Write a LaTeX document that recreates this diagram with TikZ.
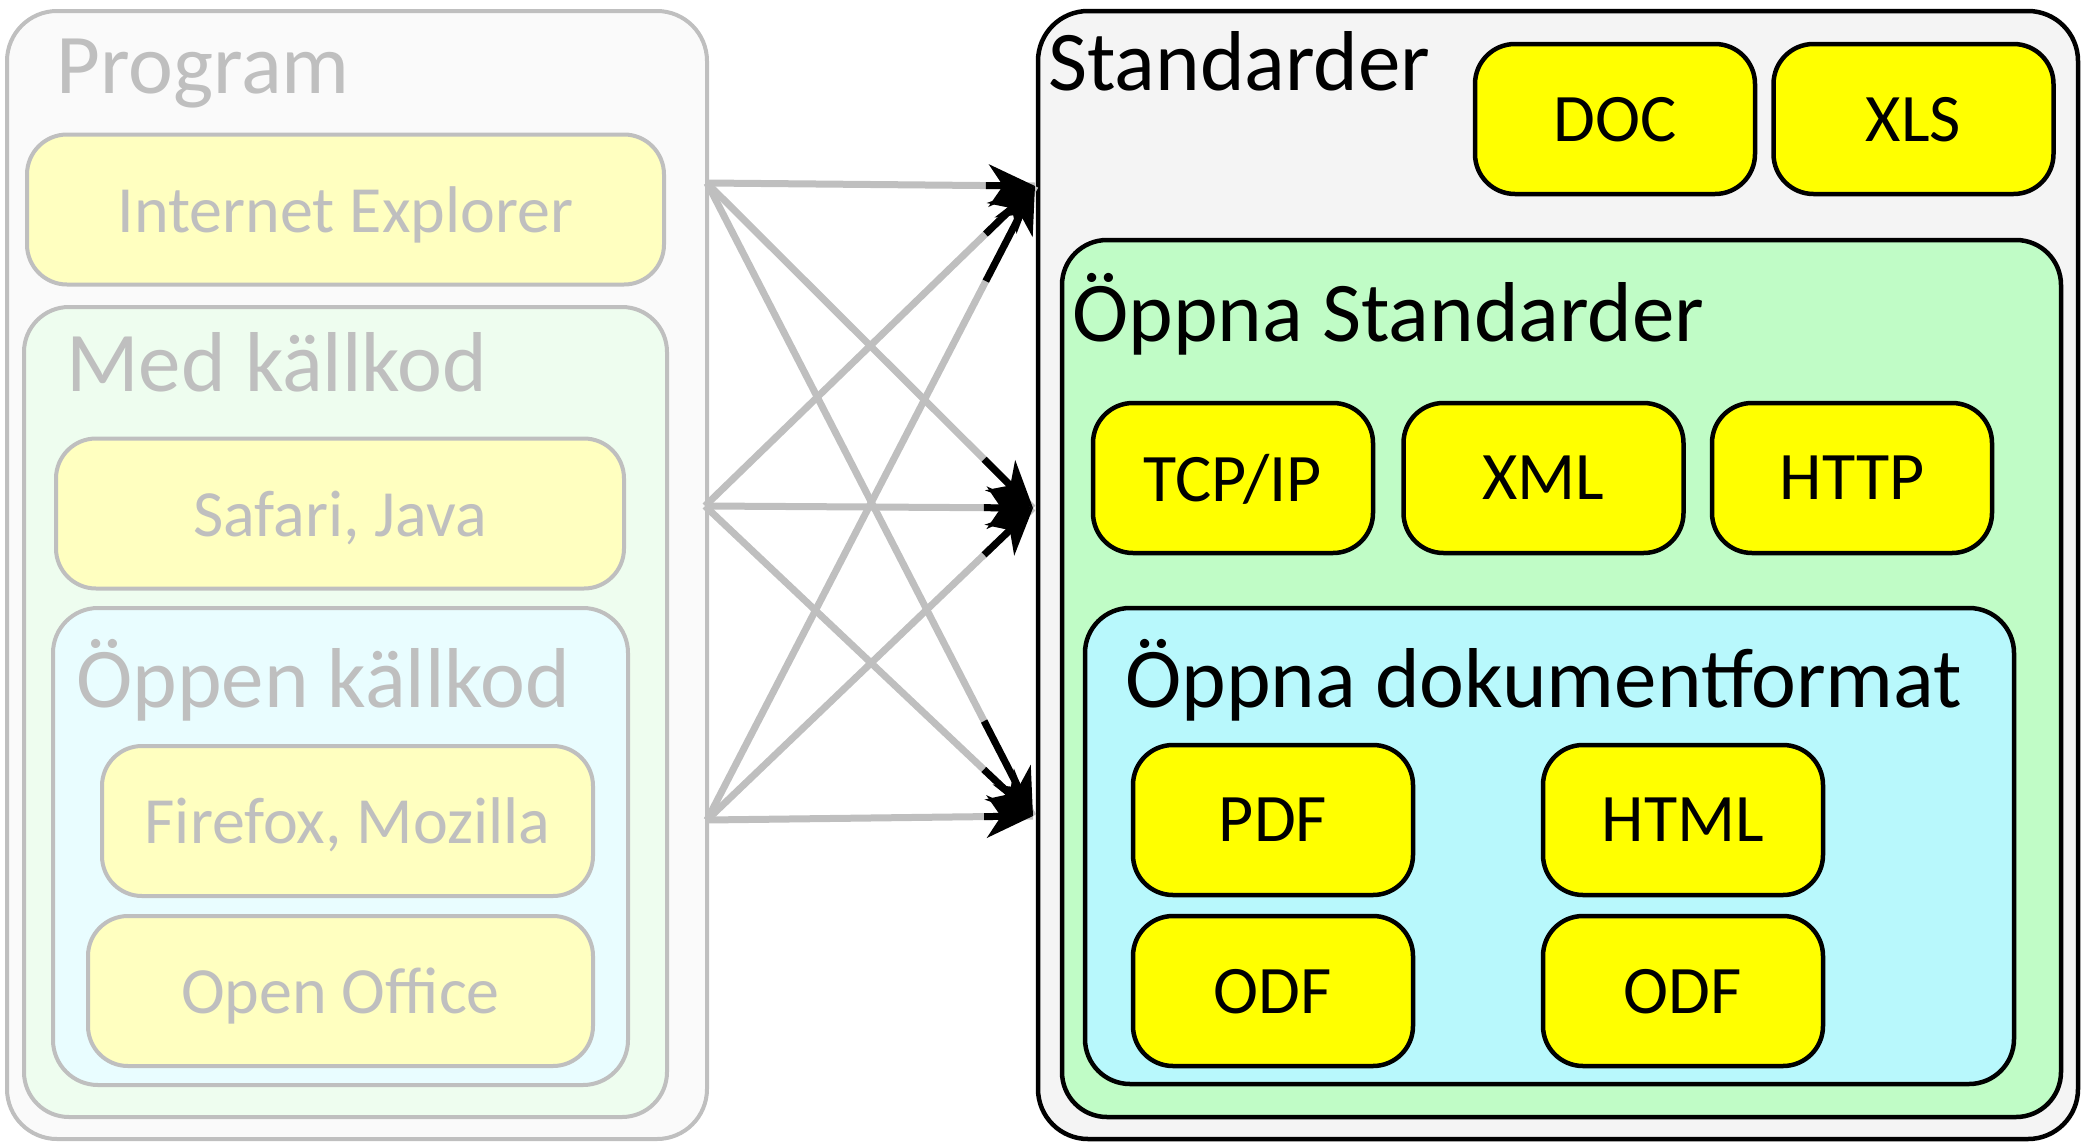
\documentclass[tikz,border=0pt]{standalone}
\usepackage{fontspec}
\setmainfont{Carlito}
\usetikzlibrary{arrows.meta,calc}
\definecolor{lgray}{HTML}{BFBFBF}
\definecolor{progfill}{HTML}{FAFAFA}
\definecolor{paleyellow}{HTML}{FFFFC0}
\definecolor{palegreen}{HTML}{EEFDEF}
\definecolor{palecyan}{HTML}{E9FDFF}
\definecolor{stdfill}{HTML}{F4F4F4}
\definecolor{greenfill}{HTML}{C0FCC6}
\definecolor{cyanfill}{HTML}{B8F8FC}
\definecolor{yel}{HTML}{FFFF00}
\begin{document}
\begin{tikzpicture}[x=1pt,y=-1pt,
  container/.style={rounded corners=#1, inner sep=0pt},
  lbox/.style={container=40pt, draw=lgray, line width=4pt, fill=paleyellow, text=lgray,
     font=\fontsize{66}{70}\selectfont, minimum height=150pt, text depth=0pt},
  rbox/.style={container=40pt, draw=black, line width=4.5pt, fill=yel, text=black,
     font=\fontsize{68}{70}\selectfont, minimum width=280pt, minimum height=150pt, text depth=0pt},
  ltitle/.style={anchor=base west, inner sep=0pt, text=lgray, font=\fontsize{85}{90}\selectfont},
  rtitle/.style={anchor=base west, inner sep=0pt, text=black, font=\fontsize{85}{90}\selectfont},
  gline/.style={draw=lgray, line width=7pt},
  bline/.style={draw=black, line width=7pt, -{Stealth[length=46pt,width=42pt,inset=14pt]}}
]
\useasboundingbox (0,0) rectangle (2081,1141);

% ---------- left side: Program ----------
\node[container=50pt, draw=lgray, line width=4pt, fill=progfill, minimum width=700pt, minimum height=1128pt] (prog) at (357,575) {};
\node[ltitle] (progt) at (56,93) {Program};
\node[lbox, minimum width=637pt] (ie) at (345.5,209.5) {Internet Explorer};
\node[container=45pt, draw=lgray, line width=4pt, fill=palegreen, minimum width=643pt, minimum height=810pt] (med) at (345.5,712) {};
\node[ltitle] (medt) at (66,391) {Med källkod};
\node[lbox, minimum width=568pt] (safari) at (340,513.5) {Safari, Java};
\node[container=45pt, draw=lgray, line width=4pt, fill=palecyan, minimum width=575pt, minimum height=477pt] (oppen) at (340.5,846.5) {};
\node[ltitle] (oppent) at (76,707) {Öppen källkod};
\node[lbox, minimum width=491pt] (firefox) at (347.5,821) {Firefox, Mozilla};
\node[lbox, minimum width=505pt] (oo) at (340.5,991) {Open Office};

% ---------- right side: Standarder ----------
\node[container=50pt, draw=black, line width=4.5pt, fill=stdfill, minimum width=1040pt, minimum height=1128pt] (std) at (1558,575) {};
\node[rtitle] (stdt) at (1048,90) {Standarder};
\node[rbox] (doc) at (1615,119) {DOC};
\node[rbox] (xls) at (1913.5,119) {XLS};
\node[container=45pt, draw=black, line width=4.5pt, fill=greenfill, minimum width=999pt, minimum height=877pt] (ostd) at (1561.5,678.5) {};
\node[rtitle] (ostdt) at (1072,341) {Öppna Standarder};
\node[rbox] (tcp) at (1233,478) {TCP/IP};
\node[rbox] (xml) at (1543.5,478) {XML};
\node[rbox] (http) at (1852,478) {HTTP};
\node[container=45pt, draw=black, line width=4.5pt, fill=cyanfill, minimum width=929pt, minimum height=476pt] (odok) at (1549.5,846) {};
\node[rtitle] (odokt) at (1125,707) {Öppna dokumentformat};
\node[rbox] (pdf) at (1273,820) {PDF};
\node[rbox] (html) at (1683,820) {HTML};
\node[rbox] (odfa) at (1273,991) {ODF};
\node[rbox] (odfb) at (1683,991) {ODF};

% ---------- connectors ----------
\coordinate (s1) at (707,183);
\coordinate (s2) at (705,506);
\coordinate (s3) at (707,820);
\coordinate (t1) at (1035,186);
\coordinate (t2) at (1033,508);
\coordinate (t3) at (1033,816);
\foreach \s in {s1,s2,s3}{
  \foreach \t in {t1,t2,t3}{
    \draw[gline] (\s) -- (\t);
  }
}
\foreach \s in {s1,s2,s3}{
  \foreach \t in {t1,t2,t3}{
    \draw[bline] ($(\s)!0.85!(\t)$) -- (\t);
  }
}
\end{tikzpicture}
\end{document}
